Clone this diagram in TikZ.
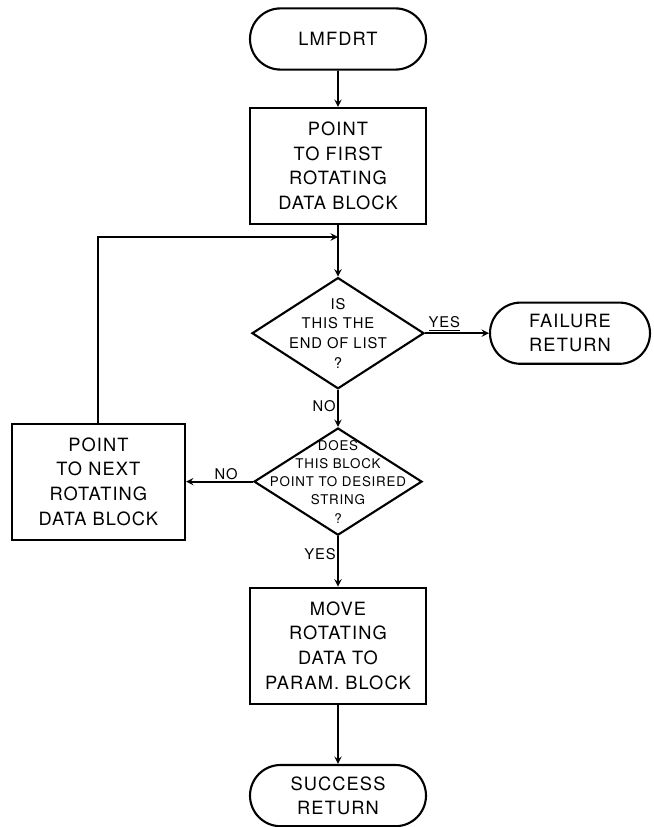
\documentclass[tikz,border=0pt]{standalone}
\usepackage{fontspec}
\setmainfont{TeX Gyre Heros}[LetterSpace=6]
\usepackage{tikz}
\usetikzlibrary{shapes.misc}
\usetikzlibrary{shapes.geometric}
\tikzset{
	term/.style={rounded rectangle,draw=black,line width=1.5pt,minimum width=4.4cm,minimum height=1.53cm,inner sep=0pt,align=center,font=\fontsize{13}{17}\selectfont},
	proc/.style={rectangle,draw=black,line width=1.5pt,minimum width=4.4cm,minimum height=2.9cm,inner sep=0pt,align=center,font=\fontsize{13}{17.5}\selectfont},
	dec/.style={diamond,draw=black,line width=1.5pt,aspect=1.55,inner sep=0pt},
	dtext/.style={align=center,inner sep=0pt,font=\fontsize{10.5}{14}\selectfont},
	flow/.style={line width=1.3pt,->},
	ans/.style={inner sep=1pt,font=\fontsize{10.5}{12}\selectfont},
	>=stealth,
	}

\begin{document}
\begin{tikzpicture}
\useasboundingbox (0,0) rectangle (16.325,-20.675);

\node[term] (start) at (8.45,-0.975) {LMFDRT};
\node[proc] (first) at (8.45,-4.15) {POINT\\TO FIRST\\ROTATING\\DATA BLOCK};
\coordinate (join) at (8.45,-5.925);
\node[dec,minimum width=4.3cm,minimum height=2.78cm,
  label={[dtext]center:IS\\THIS THE\\END OF LIST\\?}] (endlist) at (8.45,-8.33) {};
\node[term,minimum width=4cm] (fail) at (14.25,-8.33) {FAILURE\\RETURN};
\node[dec,minimum width=4.2cm,minimum height=2.68cm,
  label={[dtext,font=\fontsize{9.5}{13}\selectfont]center:DOES\\THIS BLOCK\\POINT TO DESIRED\\STRING\\?}] (match) at (8.45,-12.04) {};
\node[proc,minimum width=4.33cm] (next) at (2.46,-12.04) {POINT\\TO NEXT\\ROTATING\\DATA BLOCK};
\node[proc] (move) at (8.45,-16.14) {MOVE\\ROTATING\\DATA TO\\PARAM. BLOCK};
\node[term] (success) at (8.45,-19.89) {SUCCESS\\RETURN};

% main line
\draw[flow] (start) -- (first);
\draw[line width=1.3pt] (first) -- (join);
\draw[flow] (join) -- (endlist);
\draw[flow] (endlist) -- node[ans,above,pos=0.3] {\underline{YES}} (fail);
\draw[flow] (endlist) -- node[ans,left,pos=0.45] {NO} (match);
\draw[flow] (match) -- node[ans,above,pos=0.4] {NO} (next);
\draw[flow] (match) -- node[ans,left,pos=0.35] {YES} (move);
\draw[flow] (move) -- (success);

% loop back
\draw[flow] (next.north) |- (join);
\end{tikzpicture}
\end{document}
